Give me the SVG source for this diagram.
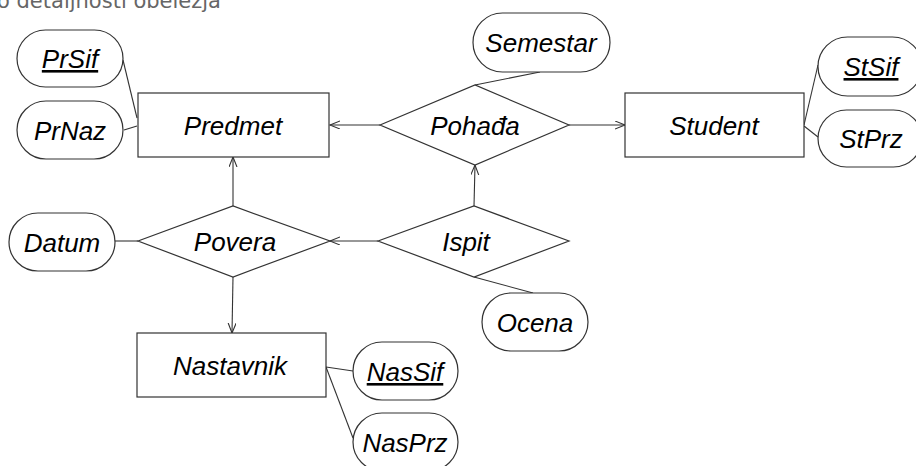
<svg xmlns="http://www.w3.org/2000/svg" width="916" height="466" viewBox="0 0 916 466">
<style>
.ent{fill:#fff;stroke:#333;stroke-width:1.2}
.rel{fill:#fff;stroke:#333;stroke-width:1.2}
.att{fill:#fff;stroke:#333;stroke-width:1.2}
.lbl{font-family:"Liberation Sans",Arial,sans-serif;font-style:italic;font-size:26px;fill:#000;text-anchor:middle}
.key{text-decoration:underline}
.con line{stroke:#333;stroke-width:1.1;fill:none}
.top{font-family:"DejaVu Sans",Verdana,sans-serif;font-size:21px;fill:#666}
</style>
<defs>
<marker id="arr" markerUnits="userSpaceOnUse" markerWidth="12" markerHeight="10" refX="10" refY="4" orient="auto">
<path d="M0,0 L10,4 L0,8" fill="none" stroke="#333" stroke-width="1.1"/>
</marker>
</defs>
<text class="top" x="-3" y="8">o detaljnosti obeležja</text>
<g class="con">
<line x1="380" y1="125" x2="330" y2="125" marker-end="url(#arr)"/>
<line x1="569" y1="125" x2="625" y2="125" marker-end="url(#arr)"/>
<line x1="233" y1="206" x2="233" y2="157" marker-end="url(#arr)"/>
<line x1="233" y1="277" x2="232" y2="333" marker-end="url(#arr)"/>
<line x1="378" y1="241" x2="330" y2="241" marker-end="url(#arr)"/>
<line x1="474" y1="206" x2="475" y2="165" marker-end="url(#arr)"/>
<line x1="123" y1="60" x2="137" y2="118"/>
<line x1="124" y1="130" x2="137" y2="126"/>
<line x1="475" y1="85" x2="540" y2="72"/>
<line x1="804" y1="125" x2="818" y2="65"/>
<line x1="804" y1="126" x2="818" y2="137"/>
<line x1="115" y1="241" x2="138" y2="241"/>
<line x1="474" y1="277" x2="533" y2="293"/>
<line x1="326" y1="367" x2="353" y2="371"/>
<line x1="326" y1="367" x2="353" y2="438"/>
</g>
<g id="Predmet"><rect class="ent" x="138" y="93" width="191" height="64"/><text class="lbl" x="233" y="135">Predmet</text></g>
<g id="Student"><rect class="ent" x="625" y="93" width="179" height="64"/><text class="lbl" x="714" y="135">Student</text></g>
<g id="Nastavnik"><rect class="ent" x="137" y="333" width="189" height="64"/><text class="lbl" x="230" y="375">Nastavnik</text></g>
<g id="Pohadja"><polygon class="rel" points="380,125 475,85 569,125 475,165"/><text class="lbl" x="475" y="135">Pohađa</text></g>
<g id="Povera"><polygon class="rel" points="138,241 233,206 330,241 233,277"/><text class="lbl" x="235" y="251">Povera</text></g>
<g id="Ispit"><polygon class="rel" points="378,241 474,206 569,241 474,277"/><text class="lbl" x="466" y="251">Ispit</text></g>
<g id="PrSif"><rect class="att" x="17" y="30" width="106" height="57" rx="28.5"/><text class="lbl key" x="70" y="68">PrSif</text></g>
<g id="PrNaz"><rect class="att" x="17" y="101" width="106" height="58" rx="29"/><text class="lbl" x="70" y="140">PrNaz</text></g>
<g id="Semestar"><rect class="att" x="473" y="13" width="137" height="59" rx="29.5"/><text class="lbl" x="541" y="52">Semestar</text></g>
<g id="StSif"><rect class="att" x="818" y="37" width="104" height="59" rx="29.5"/><text class="lbl key" x="871" y="76">StSif</text></g>
<g id="StPrz"><rect class="att" x="818" y="110" width="104" height="57" rx="28.5"/><text class="lbl" x="871" y="148">StPrz</text></g>
<g id="Datum"><rect class="att" x="9" y="213" width="106" height="58" rx="29"/><text class="lbl" x="62" y="252">Datum</text></g>
<g id="Ocena"><rect class="att" x="482" y="293" width="106" height="58" rx="29"/><text class="lbl" x="535" y="332">Ocena</text></g>
<g id="NasSif"><rect class="att" x="353" y="342" width="105" height="58" rx="29"/><text class="lbl key" x="405" y="381">NasSif</text></g>
<g id="NasPrz"><rect class="att" x="353" y="413" width="105" height="58" rx="29"/><text class="lbl" x="405" y="452">NasPrz</text></g>
</svg>
